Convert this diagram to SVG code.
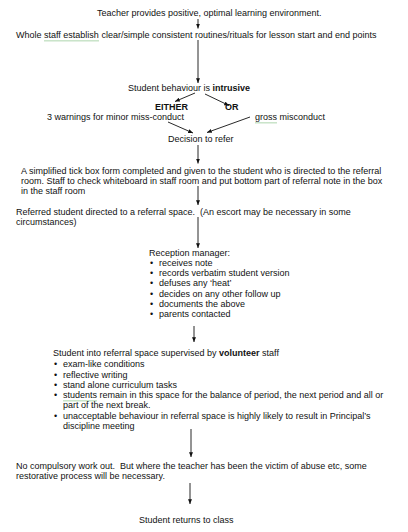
<svg xmlns="http://www.w3.org/2000/svg" width="408" height="532" viewBox="0 0 408 532">
<style>
text{font-family:"Liberation Sans",Arial,sans-serif;font-size:9px;fill:#111}
.b{font-weight:bold}
.c line{stroke:#111;stroke-width:0.9;fill:none}
.ar{marker-end:url(#ah)}
</style>
<defs>
<marker id="ah" viewBox="0 0 6 5" refX="6" refY="2.5" markerWidth="5" markerHeight="4" orient="auto" markerUnits="userSpaceOnUse"><path d="M0,0 L6,2.5 L0,5 z" fill="#111"/></marker>
<pattern id="sq" x="0" y="0" width="2" height="2" patternUnits="userSpaceOnUse"><polyline points="0,1.5 1,0.5 2,1.5" fill="none" stroke="#3c9a3c" stroke-width="0.6"/></pattern>
</defs>
<rect width="408" height="532" fill="#fff"/>
<g id="n1"><text x="97" y="16">Teacher provides positive, optimal learning environment.</text></g>
<g id="n2"><text x="16" y="37.5">Whole staff establish clear/simple consistent routines/rituals for lesson start and end points</text><rect x="44" y="40" width="55" height="2" fill="url(#sq)"/></g>
<g id="n3"><text x="128" y="91">Student behaviour is <tspan class="b">intrusive</tspan></text></g>
<g id="n4"><text x="155" y="109.5" class="b">EITHER</text></g>
<g id="n5"><text x="225" y="109.5" class="b">OR</text></g>
<g id="n6"><text x="47" y="119.5">3 warnings for minor miss-conduct</text></g>
<g id="n7"><text x="255" y="119.5">gross misconduct</text><rect x="255" y="122" width="22" height="2" fill="url(#sq)"/></g>
<g id="n8"><text x="168" y="142">Decision to refer</text></g>
<g id="n9">
<text x="21" y="173.5">A simplified tick box form completed and given to the student who is directed to the referral</text>
<text x="21" y="183.5">room. Staff to check whiteboard in staff room and put bottom part of referral note in the box</text>
<text x="21" y="193.5">in the staff room</text>
</g>
<g id="n10">
<text x="16" y="215" xml:space="preserve">Referred student directed to a referral space.  (An escort may be necessary in some</text>
<text x="16" y="225">circumstances)</text>
</g>
<g id="n11">
<text x="149" y="256">Reception manager:</text>
<text x="150" y="265.5">•</text><text x="159" y="265.5">receives note</text>
<text x="150" y="276">•</text><text x="159" y="276">records verbatim student version</text>
<text x="150" y="286">•</text><text x="159" y="286">defuses any ‘heat’</text>
<text x="150" y="296.5">•</text><text x="159" y="296.5">decides on any other follow up</text>
<text x="150" y="307">•</text><text x="159" y="307">documents the above</text>
<text x="150" y="317">•</text><text x="159" y="317">parents contacted</text>
</g>
<g id="n12">
<text x="53" y="356">Student into referral space supervised by <tspan class="b">volunteer</tspan> staff</text>
<text x="54" y="367">•</text><text x="63" y="367">exam-like conditions</text>
<text x="54" y="377.5">•</text><text x="63" y="377.5">reflective writing</text>
<text x="54" y="387.5">•</text><text x="63" y="387.5">stand alone curriculum tasks</text>
<text x="54" y="398">•</text><text x="63" y="398">students remain in this space for the balance of period, the next period and all or</text>
<rect x="63" y="400" width="34" height="2" fill="url(#sq)"/>
<text x="63" y="408">part of the next break.</text>
<text x="54" y="418.5">•</text><text x="63" y="418.5">unacceptable behaviour in referral space is highly likely to result in Principal’s</text>
<text x="63" y="429">discipline meeting</text>
</g>
<g id="n13">
<text x="16" y="469" xml:space="preserve">No compulsory work out.  But where the teacher has been the victim of abuse etc, some</text>
<text x="16" y="479">restorative process will be necessary.</text>
</g>
<g id="n14"><text x="139" y="523">Student returns to class</text></g>
<g id="connectors" class="c">
<line class="ar" x1="198" y1="19" x2="198" y2="28.5"/>
<line class="ar" x1="198" y1="40" x2="198" y2="83"/>
<line class="ar" x1="195" y1="93" x2="175" y2="101.5"/>
<line class="ar" x1="205" y1="94" x2="229" y2="105.5"/>
<line class="ar" x1="168" y1="122" x2="193" y2="133"/>
<line class="ar" x1="250" y1="117" x2="207" y2="132.5"/>
<line class="ar" x1="198" y1="145" x2="198" y2="163.5"/>
<line class="ar" x1="198" y1="186" x2="198" y2="205"/>
<line class="ar" x1="198" y1="217" x2="198" y2="248"/>
<line class="ar" x1="194" y1="326" x2="194" y2="342"/>
<line class="ar" x1="191" y1="429" x2="191" y2="457"/>
<line class="ar" x1="190" y1="483" x2="190" y2="504"/>
</g>
</svg>
